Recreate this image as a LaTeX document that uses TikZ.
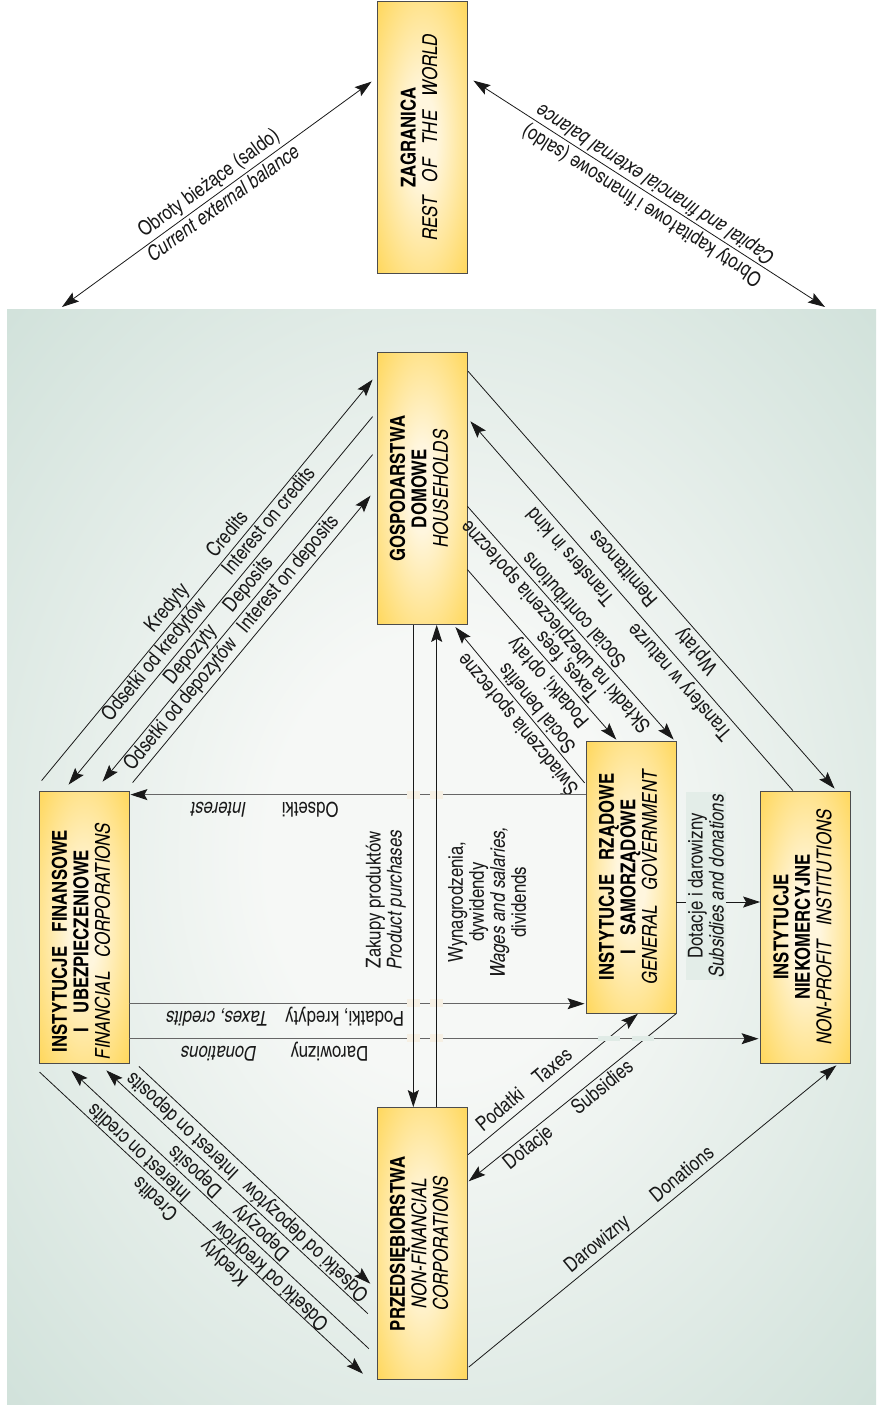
\documentclass[tikz,border=0pt]{standalone}
\usepackage{fontspec}
\setmainfont{texgyreheroscn}[Extension=.otf, UprightFont=*-regular, BoldFont=*-bold, ItalicFont=*-italic, BoldItalicFont=*-bolditalic]
\usetikzlibrary{arrows.meta,calc}

\definecolor{boxout}{RGB}{255,199,22}
\definecolor{boxin}{RGB}{255,246,222}
\definecolor{bgout}{RGB}{188,213,203}
\definecolor{bgin}{RGB}{246,248,246}
\definecolor{gapcream}{RGB}{246,240,228}
\definecolor{ink}{RGB}{25,25,25}

\pgfdeclareradialshading{boxshade}{\pgfpoint{0bp}{0bp}}{color(0bp)=(boxin); color(8bp)=(boxin); color(50bp)=(boxout); color(71bp)=(boxout)}
\pgfdeclareradialshading{bgshade}{\pgfpoint{0bp}{0bp}}{color(0bp)=(bgin); color(10bp)=(bgin); color(50bp)=(bgout); color(71bp)=(bgout)}

\newcommand\lblfont{\fontsize{20.5}{21}\selectfont}
\newcommand\boxfont{\fontsize{20.5}{21.5}\selectfont}
\newcommand\wsp{\hspace{0.7em}}
\newcommand\boxtext[2][0pt]{\rotatebox{90}{\begin{tabular}{@{}c@{\hspace{#1}}}#2\end{tabular}}}

\tikzset{
  sector/.style={draw=black!70, line width=0.8pt, shade, shading=boxshade, minimum width=90pt, minimum height=272pt, inner sep=0pt, font=\boxfont},
  flow/.style={draw=ink, line width=0.8pt},
  hflow/.style={draw=black!60, line width=1.1pt, >={Stealth[length=17pt,width=11pt,inset=3pt,color=ink]}},
  vflow/.style={draw=ink, line width=0.9pt},
  lbl/.style={font=\lblfont, text=ink, inner sep=2.5pt, text height=14.5pt, text depth=4.5pt, sloped, allow upside down},
  lbltwo/.style={font=\lblfont, text=ink, inner sep=3pt, align=center, sloped, allow upside down},
  gap/.style={fill=gapcream},
}

\begin{document}
\begin{tikzpicture}[x=1pt, y=-1pt, >={Stealth[length=17pt,width=11pt,inset=3pt]}]
\useasboundingbox (0,0) rectangle (876,1410);
\shade[shading=bgshade] (7,309) rectangle (876,1404);

% sectors
\node[sector] (world) at (422,137.5) {\boxtext{\textbf{ZAGRANICA}\\ \textit{REST\wsp OF\wsp THE\wsp WORLD}}};
\node[sector] (hh) at (422,488.5) {\boxtext{\textbf{GOSPODARSTWA}\\ \textbf{DOMOWE}\\ \textit{HOUSEHOLDS}}};
\node[sector] (fin) at (84,927) {\boxtext[28pt]{\textbf{INSTYTUCJE\wsp FINANSOWE}\\ \textbf{I\wsp UBEZPIECZENIOWE}\\ \textit{FINANCIAL\wsp CORPORATIONS}}};
\node[sector] (gov) at (631,877) {\boxtext{\textbf{INSTYTUCJE\wsp RZĄDOWE}\\ \textbf{I\wsp SAMORZĄDOWE}\\ \textit{GENERAL\wsp GOVERNMENT}}};
\node[sector] (npi) at (805.5,927) {\boxtext{\textbf{INSTYTUCJE}\\ \textbf{NIEKOMERCYJNE}\\ \textit{NON-PROFIT\wsp INSTITUTIONS}}};
\node[sector] (nfc) at (422,1243.5) {\boxtext{\textbf{PRZEDSIĘBIORSTWA}\\ \textit{NON-FINANCIAL}\\ \textit{CORPORATIONS}}};

% rest of the world
\coordinate (wl) at (62,307);
\coordinate (wr) at (825,307);
\draw[flow,<->] (wl) -- ($(world.north west)+(-5,80.5)$)
  node[lbl,pos=.5,above]{Obroty bieżące (saldo)}
  node[lbl,pos=.5,below]{\itshape Current external balance};
\draw[flow,<->] (wr) -- ($(world.north east)+(6,79.5)$)
  node[lbl,pos=.5,above]{Obroty kapitałowe i finansowe (saldo)}
  node[lbl,pos=.5,below]{\itshape Capital and financial external balance};

% financial -- households
\draw[flow,->] ($(fin.north west)+(3,-10)$) -- ($(hh.north west)+(-4,27.5)$)
  node[lbl,pos=.41,above]{Kredyty} node[lbl,pos=.593,above]{Credits};
\draw[flow,<-] ($(fin.north west)+(30,-6)$) -- ($(hh.north west)+(-4,64.5)$)
  node[lbl,pos=.316,above]{Odsetki od kredytów} node[lbl,pos=.693,above]{Interest on credits};
\draw[flow,<-] ($(fin.north west)+(64,-9)$) -- ($(hh.north west)+(-4,102.5)$)
  node[lbl,pos=.363,above]{Depozyty} node[lbl,pos=.578,above]{Deposits};
\draw[flow,->] ($(fin.north west)+(94,-8)$) -- ($(hh.north west)+(-6,143.5)$)
  node[lbl,pos=.245,above]{Odsetki od depozytów} node[lbl,pos=.697,above]{Interest on deposits};

% non-financial -- financial
\draw[flow,<-] ($(nfc.south west)+(-13.7,-6.2)$) -- ($(fin.south west)+(1,8.7)$)
  node[lbl,pos=.40,above]{Kredyty} node[lbl,pos=.613,above]{Credits};
\draw[flow,->] ($(nfc.south west)+(-7.7,-31.2)$) -- ($(fin.south west)+(32.7,7)$)
  node[lbl,pos=.30,above]{Odsetki od kredytów} node[lbl,pos=.741,above]{Interest on credits};
\draw[flow,->] ($(nfc.south west)+(-8.7,-66.2)$) -- ($(fin.south west)+(67.7,7)$)
  node[lbl,pos=.374,above]{Depozyty} node[lbl,pos=.626,above]{Deposits};
\draw[flow,<-] ($(nfc.south west)+(-6.3,-96.2)$) -- ($(fin.south west)+(100.3,3)$)
  node[lbl,pos=.24,above]{Odsetki od depozytów} node[lbl,pos=.772,above]{Interest on deposits};

% households -- government, non-profit
\draw[flow,<-] ($(npi.north west)+(74.5,-2)$) -- ($(hh.north east)+(0.7,19.2)$)
  node[lbl,pos=.35,above]{Wpłaty} node[lbl,pos=.549,above]{Remittances};
\draw[flow,->] ($(npi.north west)+(32.8,0)$) -- ($(hh.north east)+(3,69.2)$)
  node[lbl,pos=.319,above]{Transfery w naturze} node[lbl,pos=.658,above]{Transfers in kind};
\draw[flow,<-] ($(gov.north east)+(-2.7,-1)$) -- ($(hh.north east)+(0,154.2)$)
  node[lbl,pos=.523,above]{Składki na ubezpieczenia społeczne}
  node[lbl,pos=.523,below]{Social contributions};
\draw[flow,<-] ($(gov.north west)+(30.7,-1)$) -- ($(hh.north east)+(0,217.5)$)
  node[lbl,pos=.387,above]{Podatki, opłaty}
  node[lbl,pos=.387,below]{Taxes, fees};
\draw[flow,->] ($(gov.north west)+(-1,42.3)$) -- ($(hh.south east)+(-12,2.2)$)
  node[lbl,pos=.433,above]{Świadczenia społeczne}
  node[lbl,pos=.433,below]{Social benefits};

% non-financial -- government, non-profit
\draw[flow,->] ($(nfc.north east)+(0.7,47.5)$) -- ($(gov.south west)+(52.3,0.3)$)
  node[lbl,pos=.242,above]{Podatki} node[lbl,pos=.549,above]{Taxes};
\draw[flow,<-] ($(nfc.north east)+(1.3,74.2)$) -- ($(gov.south east)+(-0.3,0.3)$)
  node[lbl,pos=.253,below]{Dotacje} node[lbl,pos=.611,below]{Subsidies};
\draw[flow,->] ($(nfc.south east)+(1.3,-12.8)$) -- ($(npi.south west)+(76.2,2)$)
  node[lbl,pos=.373,above]{Darowizny} node[lbl,pos=.604,above]{Donations};

% horizontal flows
\draw[hflow,->] ($(gov.north west)+(0,54)$) -- ($(fin.north east)+(1,4)$)
  node[lbl,pos=.605,above]{Odsetki} node[lbl,pos=.806,above]{\itshape Interest};
\draw[hflow,<-] ($(gov.south west)+(-1,-9.7)$) -- ($(fin.south east)+(0,-59.7)$)
  node[lbl,pos=.527,above]{Podatki, kredyty} node[lbl,pos=.807,above]{\itshape Taxes, credits};
\draw[hflow,<-] ($(npi.south west)+(-1.5,-24.7)$) -- ($(fin.south east)+(0,-24.7)$)
  node[lbl,pos=.682,above]{Darowizny} node[lbl,pos=.858,above]{\itshape Donations};

% breaks where lines cross
\foreach \y in {795,1003.3,1038.3}{
  \foreach \x in {413.3,436.7}{
    \fill[gap] (\x-6.5,\y-4) rectangle (\x+6.5,\y+4);
  }
}
\foreach \x in {609,642.5}{
  \fill[bgin!62!bgout] (\x-11,1035.8) rectangle (\x+11,1040.8);
}

% households -- non-financial
\draw[vflow,<-] ($(nfc.north)+(-8.7,0)$) -- ($(hh.south)+(-8.7,0)$)
  node[lbltwo,pos=.43,above,inner sep=7pt]{Zakupy produktów\\\itshape Product purchases};
\draw[vflow,->] ($(nfc.north)+(14.7,0)$) -- ($(hh.south)+(14.7,0)$)
  node[lbltwo,pos=.425,below,inner sep=11pt]{Wynagrodzenia,\\dywidendy\\\itshape Wages and salaries,\\dividends};

% government -- non-profit
\draw[vflow,->] ($(gov.east)+(0,25)$) -- ($(npi.west)+(0,-25)$);
\node[lbltwo, rotate=90, fill=bgin!68!bgout, inner sep=2pt] (dd) at (706,886)
  {Dotacje i darowizny\\\itshape Subsidies and donations};
\end{tikzpicture}
\end{document}
